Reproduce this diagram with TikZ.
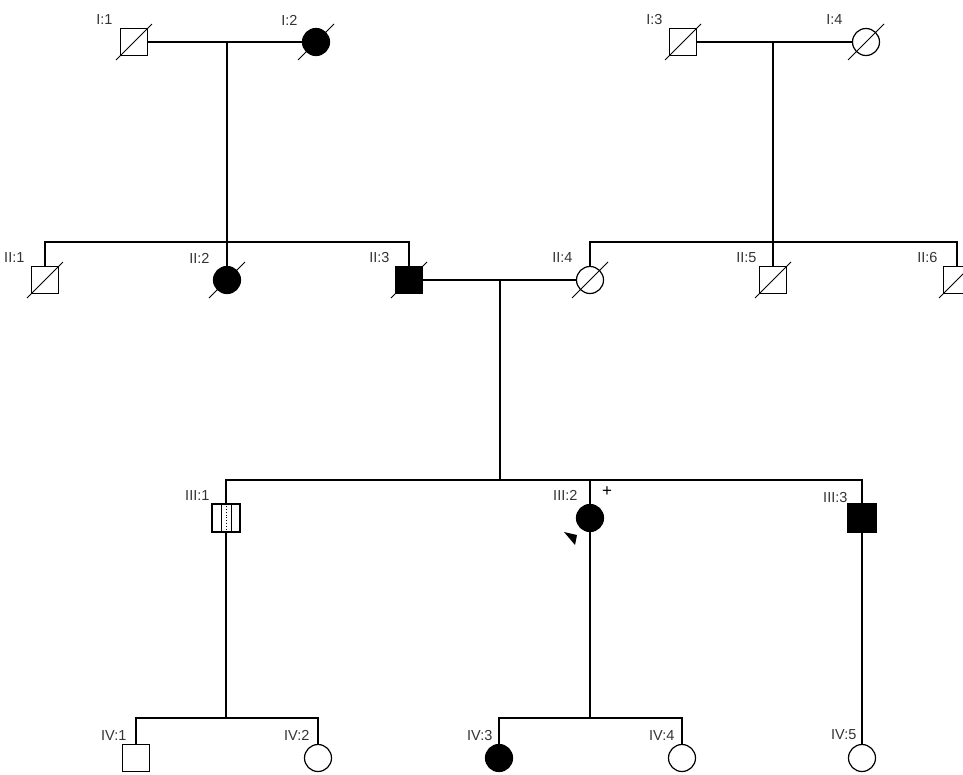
\documentclass[tikz,border=0pt]{standalone}
\usepackage{fontspec}
\setmainfont{Liberation Sans}
\usetikzlibrary{calc}
\begin{document}
\begin{tikzpicture}[x=1pt,y=-1pt, line width=1.2pt,
  male/.style={draw, rectangle, minimum size=27pt, inner sep=0pt},
  female/.style={draw, circle, minimum size=27pt, inner sep=0pt},
  aff/.style={fill=black},
  lab/.style={font=\fontsize{14.5}{14.5}\selectfont, text=black!80, inner sep=0pt, anchor=east},
  dead/.style={line width=1pt}]
\useasboundingbox (0,0) rectangle (963,774);

% Generation I
\node[male] (I1) at (134,42) {};
\node[female,aff] (I2) at (316,42) {};
\node[male] (I3) at (683,42) {};
\node[female] (I4) at (866,42) {};
% Generation II
\node[male] (II1) at (45,280) {};
\node[female,aff] (II2) at (227,280) {};
\node[male,aff] (II3) at (409,280) {};
\node[female] (II4) at (590,280) {};
\node[male] (II5) at (773,280) {};
\node[male] (II6) at (957,280) {};
% Generation III
\node[male, minimum size=28pt] (III1) at (226,518) {};
\node[female,aff] (III2) at (590,518) {};
\node[male,aff, minimum size=28pt] (III3) at (862,518) {};
% Generation IV
\node[male] (IV1) at (136,758) {};
\node[female] (IV2) at (318,758) {};
\node[female,aff] (IV3) at (499,758) {};
\node[female] (IV4) at (682,758) {};
\node[female] (IV5) at (862,758) {};

% deceased slashes
\foreach \n in {I1,I2,I3,I4,II1,II2,II3,II4,II5,II6}
  \draw[dead] ($(\n)+(-18,18)$) -- ($(\n)+(18,-18)$);

% III:1 inner marks
\draw[line width=0.8pt] ($(III1.north)+(-5,0)$) -- ($(III1.south)+(-5,0)$);
\draw[line width=0.8pt] ($(III1.north)+(5,0)$) -- ($(III1.south)+(5,0)$);
\draw[line width=0.8pt, dotted] (III1.north) -- (III1.south);

% couple lines and descents
\coordinate (m1) at (227,42);
\coordinate (m2) at (773,42);
\coordinate (m3) at (500,280);
\draw (I1.east) -- (I2.west);
\draw (I3.east) -- (I4.west);
\draw (II3.east) -- (II4.west);
\draw (m1) -- (II2.north);
\draw (m2) -- (II5.north);

% sibship II left
\coordinate (s1) at (45,242);
\coordinate (s2) at (409,242);
\draw (II1.north) -- (s1) -- (s2) -- (II3.north);
% sibship II right
\coordinate (s3) at (590,242);
\coordinate (s4) at (957,242);
\draw (II4.north) -- (s3) -- (s4) -- (II6.north);

% generation III sibship
\coordinate (t0) at (500,480);
\coordinate (t1) at (226,480);
\coordinate (t2) at (590,480);
\coordinate (t3) at (862,480);
\draw (m3) -- (t0);
\draw (III1.north) -- (t1) -- (t3) -- (III3.north);
\draw (t2) -- (III2.north);

% generation IV
\coordinate (u0) at (226,718);
\coordinate (u1) at (136,718);
\coordinate (u2) at (318,718);
\draw (III1.south) -- (u0);
\draw (IV1.north) -- (u1) -- (u2) -- (IV2.north);
\coordinate (v0) at (590,718);
\coordinate (v1) at (499,718);
\coordinate (v2) at (682,718);
\draw (III2.south) -- (v0);
\draw (IV3.north) -- (v1) -- (v2) -- (IV4.north);
\draw (III3.south) -- (IV5.north);

% proband arrow and plus
\fill (564,532) -- (577,535) -- (575,545) -- cycle;
\node[font=\fontsize{17}{17}\selectfont, inner sep=0pt] (plus) at (607,492) {+};

% labels
\node[lab] (lI1) at (113,20) {I:1};
\node[lab] (lI2) at (298,20) {I:2};
\node[lab] (lI3) at (663,20) {I:3};
\node[lab] (lI4) at (843,20) {I:4};
\node[lab] (lII1) at (25,258) {II:1};
\node[lab] (lII2) at (210,258) {II:2};
\node[lab] (lII3) at (390,258) {II:3};
\node[lab] (lII4) at (573,258) {II:4};
\node[lab] (lII5) at (757,258) {II:5};
\node[lab] (lII6) at (938,258) {II:6};
\node[lab] (lIII1) at (210,496) {III:1};
\node[lab] (lIII2) at (578,495) {III:2};
\node[lab] (lIII3) at (848,497) {III:3};
\node[lab] (lIV1) at (127,735) {IV:1};
\node[lab] (lIV2) at (310,735) {IV:2};
\node[lab] (lIV3) at (493,735) {IV:3};
\node[lab] (lIV4) at (675,735) {IV:4};
\node[lab] (lIV5) at (857,735) {IV:5};
\end{tikzpicture}
\end{document}
